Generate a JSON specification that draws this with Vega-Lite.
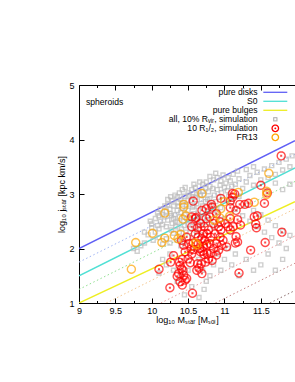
{
"$schema": "https://vega.github.io/schema/vega-lite/v6.json",
"width": 216, "height": 218,
"autosize": {"type": "none"},
"padding": {"left": 79, "top": 85, "right": 0, "bottom": 79},
"config": {
  "font": "Liberation Sans",
  "view": {"stroke": "#000000", "strokeWidth": 1},
  "axis": {"domain": false, "grid": false, "tickColor": "#000000", "tickWidth": 1, "labelFontSize": 9, "labelColor": "#000000", "titleFontSize": 9, "titleFontWeight": "normal", "titleColor": "#000000", "labelFont": "Liberation Sans", "titleFont": "Liberation Sans"}
},
"datasets": {
  "lines": [
    {"series": "pure disks", "M": 9, "j": 2.0}, {"series": "pure disks", "M": 11.97, "j": 3.98},
    {"series": "S0", "M": 9, "j": 1.5}, {"series": "S0", "M": 11.97, "j": 3.48},
    {"series": "pure bulges", "M": 9, "j": 1.0}, {"series": "pure bulges", "M": 11.97, "j": 2.86}
  ],
  "dotted": [
    {"line": "d1", "M": 9, "j": 1.75}, {"line": "d1", "M": 11.97, "j": 3.73},
    {"line": "d2", "M": 9, "j": 1.25}, {"line": "d2", "M": 11.97, "j": 3.23},
    {"line": "d3", "M": 9.375, "j": 1.0}, {"line": "d3", "M": 11.97, "j": 2.73},
    {"line": "d4", "M": 10.125, "j": 1.0}, {"line": "d4", "M": 11.97, "j": 2.23},
    {"line": "d5", "M": 10.875, "j": 1.0}, {"line": "d5", "M": 11.97, "j": 1.73},
    {"line": "d6", "M": 11.625, "j": 1.0}, {"line": "d6", "M": 11.97, "j": 1.23}
  ],
  "pts": [
    {"series":"all, 10% Rᵥᵢᵣ, simulation","M":10.30,"j":2.55},{"series":"all, 10% Rᵥᵢᵣ, simulation","M":10.32,"j":2.62},{"series":"all, 10% Rᵥᵢᵣ, simulation","M":10.35,"j":2.70},{"series":"all, 10% Rᵥᵢᵣ, simulation","M":10.38,"j":2.58},{"series":"all, 10% Rᵥᵢᵣ, simulation","M":10.40,"j":2.66},{"series":"all, 10% Rᵥᵢᵣ, simulation","M":10.42,"j":2.74},{"series":"all, 10% Rᵥᵢᵣ, simulation","M":10.44,"j":2.50},{"series":"all, 10% Rᵥᵢᵣ, simulation","M":10.46,"j":2.62},{"series":"all, 10% Rᵥᵢᵣ, simulation","M":10.48,"j":2.80},{"series":"all, 10% Rᵥᵢᵣ, simulation","M":10.50,"j":2.70},
    {"series":"all, 10% Rᵥᵢᵣ, simulation","M":10.52,"j":2.56},{"series":"all, 10% Rᵥᵢᵣ, simulation","M":10.54,"j":2.88},{"series":"all, 10% Rᵥᵢᵣ, simulation","M":10.56,"j":2.76},{"series":"all, 10% Rᵥᵢᵣ, simulation","M":10.58,"j":2.64},{"series":"all, 10% Rᵥᵢᵣ, simulation","M":10.60,"j":2.94},{"series":"all, 10% Rᵥᵢᵣ, simulation","M":10.62,"j":2.82},{"series":"all, 10% Rᵥᵢᵣ, simulation","M":10.64,"j":2.70},{"series":"all, 10% Rᵥᵢᵣ, simulation","M":10.66,"j":2.58},{"series":"all, 10% Rᵥᵢᵣ, simulation","M":10.68,"j":2.90},{"series":"all, 10% Rᵥᵢᵣ, simulation","M":10.70,"j":2.78},
    {"series":"all, 10% Rᵥᵢᵣ, simulation","M":10.72,"j":2.98},{"series":"all, 10% Rᵥᵢᵣ, simulation","M":10.74,"j":2.86},{"series":"all, 10% Rᵥᵢᵣ, simulation","M":10.76,"j":2.68},{"series":"all, 10% Rᵥᵢᵣ, simulation","M":10.78,"j":3.04},{"series":"all, 10% Rᵥᵢᵣ, simulation","M":10.80,"j":2.92},{"series":"all, 10% Rᵥᵢᵣ, simulation","M":10.82,"j":2.80},{"series":"all, 10% Rᵥᵢᵣ, simulation","M":10.84,"j":3.10},{"series":"all, 10% Rᵥᵢᵣ, simulation","M":10.86,"j":2.98},{"series":"all, 10% Rᵥᵢᵣ, simulation","M":10.88,"j":2.86},{"series":"all, 10% Rᵥᵢᵣ, simulation","M":10.90,"j":3.08},
    {"series":"all, 10% Rᵥᵢᵣ, simulation","M":10.92,"j":2.94},{"series":"all, 10% Rᵥᵢᵣ, simulation","M":10.94,"j":3.16},{"series":"all, 10% Rᵥᵢᵣ, simulation","M":10.96,"j":3.02},{"series":"all, 10% Rᵥᵢᵣ, simulation","M":10.98,"j":2.90},{"series":"all, 10% Rᵥᵢᵣ, simulation","M":11.00,"j":3.12},{"series":"all, 10% Rᵥᵢᵣ, simulation","M":11.02,"j":3.20},{"series":"all, 10% Rᵥᵢᵣ, simulation","M":11.04,"j":3.06},{"series":"all, 10% Rᵥᵢᵣ, simulation","M":11.06,"j":2.96},{"series":"all, 10% Rᵥᵢᵣ, simulation","M":11.08,"j":3.24},{"series":"all, 10% Rᵥᵢᵣ, simulation","M":11.10,"j":3.14},
    {"series":"all, 10% Rᵥᵢᵣ, simulation","M":10.05,"j":2.30},{"series":"all, 10% Rᵥᵢᵣ, simulation","M":10.08,"j":2.42},{"series":"all, 10% Rᵥᵢᵣ, simulation","M":10.10,"j":2.36},{"series":"all, 10% Rᵥᵢᵣ, simulation","M":10.12,"j":2.50},{"series":"all, 10% Rᵥᵢᵣ, simulation","M":10.15,"j":2.44},{"series":"all, 10% Rᵥᵢᵣ, simulation","M":10.18,"j":2.58},{"series":"all, 10% Rᵥᵢᵣ, simulation","M":10.20,"j":2.40},{"series":"all, 10% Rᵥᵢᵣ, simulation","M":10.22,"j":2.52},{"series":"all, 10% Rᵥᵢᵣ, simulation","M":10.25,"j":2.64},{"series":"all, 10% Rᵥᵢᵣ, simulation","M":10.27,"j":2.34},
    {"series":"all, 10% Rᵥᵢᵣ, simulation","M":10.28,"j":2.46},{"series":"all, 10% Rᵥᵢᵣ, simulation","M":10.30,"j":2.28},{"series":"all, 10% Rᵥᵢᵣ, simulation","M":10.33,"j":2.40},{"series":"all, 10% Rᵥᵢᵣ, simulation","M":10.36,"j":2.48},{"series":"all, 10% Rᵥᵢᵣ, simulation","M":10.38,"j":2.30},{"series":"all, 10% Rᵥᵢᵣ, simulation","M":10.41,"j":2.36},{"series":"all, 10% Rᵥᵢᵣ, simulation","M":10.45,"j":2.42},{"series":"all, 10% Rᵥᵢᵣ, simulation","M":10.47,"j":2.30},{"series":"all, 10% Rᵥᵢᵣ, simulation","M":10.50,"j":2.44},{"series":"all, 10% Rᵥᵢᵣ, simulation","M":10.53,"j":2.36},
    {"series":"all, 10% Rᵥᵢᵣ, simulation","M":10.57,"j":2.48},{"series":"all, 10% Rᵥᵢᵣ, simulation","M":10.60,"j":2.40},{"series":"all, 10% Rᵥᵢᵣ, simulation","M":10.63,"j":2.52},{"series":"all, 10% Rᵥᵢᵣ, simulation","M":10.66,"j":2.44},{"series":"all, 10% Rᵥᵢᵣ, simulation","M":10.70,"j":2.56},{"series":"all, 10% Rᵥᵢᵣ, simulation","M":10.73,"j":2.48},{"series":"all, 10% Rᵥᵢᵣ, simulation","M":10.77,"j":2.60},{"series":"all, 10% Rᵥᵢᵣ, simulation","M":10.80,"j":2.52},
    {"series":"all, 10% Rᵥᵢᵣ, simulation","M":10.40,"j":2.90},{"series":"all, 10% Rᵥᵢᵣ, simulation","M":10.45,"j":2.96},{"series":"all, 10% Rᵥᵢᵣ, simulation","M":10.50,"j":3.02},{"series":"all, 10% Rᵥᵢᵣ, simulation","M":10.55,"j":3.08},{"series":"all, 10% Rᵥᵢᵣ, simulation","M":10.60,"j":3.12},{"series":"all, 10% Rᵥᵢᵣ, simulation","M":10.65,"j":3.04},{"series":"all, 10% Rᵥᵢᵣ, simulation","M":10.70,"j":3.18},{"series":"all, 10% Rᵥᵢᵣ, simulation","M":10.75,"j":3.22},{"series":"all, 10% Rᵥᵢᵣ, simulation","M":10.80,"j":3.14},{"series":"all, 10% Rᵥᵢᵣ, simulation","M":10.85,"j":3.26},
    {"series":"all, 10% Rᵥᵢᵣ, simulation","M":10.90,"j":3.30},{"series":"all, 10% Rᵥᵢᵣ, simulation","M":10.95,"j":3.24},{"series":"all, 10% Rᵥᵢᵣ, simulation","M":10.36,"j":2.84},{"series":"all, 10% Rᵥᵢᵣ, simulation","M":10.30,"j":2.78},{"series":"all, 10% Rᵥᵢᵣ, simulation","M":10.25,"j":2.72},{"series":"all, 10% Rᵥᵢᵣ, simulation","M":10.20,"j":2.68},{"series":"all, 10% Rᵥᵢᵣ, simulation","M":10.15,"j":2.62},
    {"series":"all, 10% Rᵥᵢᵣ, simulation","M":9.90,"j":2.10},{"series":"all, 10% Rᵥᵢᵣ, simulation","M":9.95,"j":2.25},{"series":"all, 10% Rᵥᵢᵣ, simulation","M":10.00,"j":2.38},{"series":"all, 10% Rᵥᵢᵣ, simulation","M":9.85,"j":2.05},{"series":"all, 10% Rᵥᵢᵣ, simulation","M":10.02,"j":2.15},{"series":"all, 10% Rᵥᵢᵣ, simulation","M":10.10,"j":2.20},{"series":"all, 10% Rᵥᵢᵣ, simulation","M":10.15,"j":2.08},{"series":"all, 10% Rᵥᵢᵣ, simulation","M":10.20,"j":2.18},{"series":"all, 10% Rᵥᵢᵣ, simulation","M":10.25,"j":2.10},{"series":"all, 10% Rᵥᵢᵣ, simulation","M":10.35,"j":2.15},{"series":"all, 10% Rᵥᵢᵣ, simulation","M":10.40,"j":2.05},{"series":"all, 10% Rᵥᵢᵣ, simulation","M":10.45,"j":2.12},
    {"series":"all, 10% Rᵥᵢᵣ, simulation","M":11.15,"j":3.18},{"series":"all, 10% Rᵥᵢᵣ, simulation","M":11.20,"j":3.28},{"series":"all, 10% Rᵥᵢᵣ, simulation","M":11.25,"j":3.10},{"series":"all, 10% Rᵥᵢᵣ, simulation","M":11.30,"j":3.22},{"series":"all, 10% Rᵥᵢᵣ, simulation","M":11.35,"j":3.34},{"series":"all, 10% Rᵥᵢᵣ, simulation","M":11.40,"j":3.16},{"series":"all, 10% Rᵥᵢᵣ, simulation","M":11.45,"j":3.40},{"series":"all, 10% Rᵥᵢᵣ, simulation","M":11.50,"j":3.26},{"series":"all, 10% Rᵥᵢᵣ, simulation","M":11.55,"j":3.46},{"series":"all, 10% Rᵥᵢᵣ, simulation","M":11.60,"j":3.30},
    {"series":"all, 10% Rᵥᵢᵣ, simulation","M":11.65,"j":3.52},{"series":"all, 10% Rᵥᵢᵣ, simulation","M":11.70,"j":3.36},{"series":"all, 10% Rᵥᵢᵣ, simulation","M":11.75,"j":3.58},{"series":"all, 10% Rᵥᵢᵣ, simulation","M":11.80,"j":3.44},{"series":"all, 10% Rᵥᵢᵣ, simulation","M":11.85,"j":3.64},{"series":"all, 10% Rᵥᵢᵣ, simulation","M":11.90,"j":3.50},{"series":"all, 10% Rᵥᵢᵣ, simulation","M":11.93,"j":3.70},{"series":"all, 10% Rᵥᵢᵣ, simulation","M":11.70,"j":3.20},{"series":"all, 10% Rᵥᵢᵣ, simulation","M":11.80,"j":3.08},{"series":"all, 10% Rᵥᵢᵣ, simulation","M":11.90,"j":3.18},{"series":"all, 10% Rᵥᵢᵣ, simulation","M":11.60,"j":3.05},
    {"series":"all, 10% Rᵥᵢᵣ, simulation","M":11.10,"j":2.86},{"series":"all, 10% Rᵥᵢᵣ, simulation","M":11.15,"j":2.72},{"series":"all, 10% Rᵥᵢᵣ, simulation","M":11.20,"j":2.96},{"series":"all, 10% Rᵥᵢᵣ, simulation","M":11.25,"j":2.60},{"series":"all, 10% Rᵥᵢᵣ, simulation","M":11.30,"j":2.80},{"series":"all, 10% Rᵥᵢᵣ, simulation","M":11.35,"j":2.50},{"series":"all, 10% Rᵥᵢᵣ, simulation","M":11.40,"j":2.70},{"series":"all, 10% Rᵥᵢᵣ, simulation","M":11.45,"j":2.40},{"series":"all, 10% Rᵥᵢᵣ, simulation","M":11.50,"j":2.62},{"series":"all, 10% Rᵥᵢᵣ, simulation","M":11.55,"j":2.30},
    {"series":"all, 10% Rᵥᵢᵣ, simulation","M":11.60,"j":2.52},{"series":"all, 10% Rᵥᵢᵣ, simulation","M":11.65,"j":2.20},{"series":"all, 10% Rᵥᵢᵣ, simulation","M":11.70,"j":2.42},{"series":"all, 10% Rᵥᵢᵣ, simulation","M":11.75,"j":2.10},{"series":"all, 10% Rᵥᵢᵣ, simulation","M":11.80,"j":2.32},{"series":"all, 10% Rᵥᵢᵣ, simulation","M":11.85,"j":2.00},{"series":"all, 10% Rᵥᵢᵣ, simulation","M":11.90,"j":2.24},
    {"series":"all, 10% Rᵥᵢᵣ, simulation","M":10.60,"j":2.00},{"series":"all, 10% Rᵥᵢᵣ, simulation","M":10.65,"j":1.80},{"series":"all, 10% Rᵥᵢᵣ, simulation","M":10.70,"j":1.60},{"series":"all, 10% Rᵥᵢᵣ, simulation","M":10.75,"j":1.40},{"series":"all, 10% Rᵥᵢᵣ, simulation","M":10.80,"j":1.50},{"series":"all, 10% Rᵥᵢᵣ, simulation","M":10.85,"j":1.70},{"series":"all, 10% Rᵥᵢᵣ, simulation","M":10.90,"j":1.90},{"series":"all, 10% Rᵥᵢᵣ, simulation","M":10.95,"j":1.60},{"series":"all, 10% Rᵥᵢᵣ, simulation","M":11.00,"j":1.80},{"series":"all, 10% Rᵥᵢᵣ, simulation","M":11.05,"j":2.00},
    {"series":"all, 10% Rᵥᵢᵣ, simulation","M":11.10,"j":1.70},{"series":"all, 10% Rᵥᵢᵣ, simulation","M":11.15,"j":1.90},{"series":"all, 10% Rᵥᵢᵣ, simulation","M":11.20,"j":1.50},{"series":"all, 10% Rᵥᵢᵣ, simulation","M":11.30,"j":1.80},{"series":"all, 10% Rᵥᵢᵣ, simulation","M":11.40,"j":1.60},{"series":"all, 10% Rᵥᵢᵣ, simulation","M":11.50,"j":1.70},{"series":"all, 10% Rᵥᵢᵣ, simulation","M":11.60,"j":1.90},{"series":"all, 10% Rᵥᵢᵣ, simulation","M":11.70,"j":1.60},{"series":"all, 10% Rᵥᵢᵣ, simulation","M":11.80,"j":1.80},{"series":"all, 10% Rᵥᵢᵣ, simulation","M":10.50,"j":1.60},
    {"series":"all, 10% Rᵥᵢᵣ, simulation","M":10.40,"j":1.50},{"series":"all, 10% Rᵥᵢᵣ, simulation","M":10.55,"j":1.30},{"series":"all, 10% Rᵥᵢᵣ, simulation","M":10.45,"j":1.15},{"series":"all, 10% Rᵥᵢᵣ, simulation","M":10.35,"j":1.40},{"series":"all, 10% Rᵥᵢᵣ, simulation","M":10.30,"j":1.60},{"series":"all, 10% Rᵥᵢᵣ, simulation","M":10.65,"j":1.10},{"series":"all, 10% Rᵥᵢᵣ, simulation","M":10.72,"j":1.25},{"series":"all, 10% Rᵥᵢᵣ, simulation","M":10.20,"j":1.70},{"series":"all, 10% Rᵥᵢᵣ, simulation","M":10.25,"j":1.90},{"series":"all, 10% Rᵥᵢᵣ, simulation","M":10.15,"j":1.80},{"series":"all, 10% Rᵥᵢᵣ, simulation","M":10.10,"j":1.55},
    {"series":"all, 10% Rᵥᵢᵣ, simulation","M":10.42,"j":2.20},{"series":"all, 10% Rᵥᵢᵣ, simulation","M":10.55,"j":2.20},{"series":"all, 10% Rᵥᵢᵣ, simulation","M":10.68,"j":2.25},{"series":"all, 10% Rᵥᵢᵣ, simulation","M":10.85,"j":2.40},{"series":"all, 10% Rᵥᵢᵣ, simulation","M":10.90,"j":2.65},{"series":"all, 10% Rᵥᵢᵣ, simulation","M":10.95,"j":2.75},{"series":"all, 10% Rᵥᵢᵣ, simulation","M":11.00,"j":2.55},{"series":"all, 10% Rᵥᵢᵣ, simulation","M":10.92,"j":2.45},{"series":"all, 10% Rᵥᵢᵣ, simulation","M":10.62,"j":2.30},{"series":"all, 10% Rᵥᵢᵣ, simulation","M":10.48,"j":2.55},
    {"series":"all, 10% Rᵥᵢᵣ, simulation","M":10.58,"j":2.78},{"series":"all, 10% Rᵥᵢᵣ, simulation","M":10.52,"j":2.98},{"series":"all, 10% Rᵥᵢᵣ, simulation","M":10.67,"j":2.98},{"series":"all, 10% Rᵥᵢᵣ, simulation","M":10.77,"j":2.90},{"series":"all, 10% Rᵥᵢᵣ, simulation","M":10.83,"j":2.70},{"series":"all, 10% Rᵥᵢᵣ, simulation","M":10.35,"j":2.95},{"series":"all, 10% Rᵥᵢᵣ, simulation","M":10.28,"j":2.88},{"series":"all, 10% Rᵥᵢᵣ, simulation","M":10.22,"j":2.80},
    {"series":"all, 10% Rᵥᵢᵣ, simulation","M":10.05,"j":2.55},{"series":"all, 10% Rᵥᵢᵣ, simulation","M":10.08,"j":2.65},{"series":"all, 10% Rᵥᵢᵣ, simulation","M":10.12,"j":2.72},{"series":"all, 10% Rᵥᵢᵣ, simulation","M":10.18,"j":2.78},{"series":"all, 10% Rᵥᵢᵣ, simulation","M":10.22,"j":2.90},{"series":"all, 10% Rᵥᵢᵣ, simulation","M":10.26,"j":2.95},{"series":"all, 10% Rᵥᵢᵣ, simulation","M":10.32,"j":2.98},{"series":"all, 10% Rᵥᵢᵣ, simulation","M":10.38,"j":3.02},{"series":"all, 10% Rᵥᵢᵣ, simulation","M":10.42,"j":3.08},{"series":"all, 10% Rᵥᵢᵣ, simulation","M":10.46,"j":3.12},
    {"series":"all, 10% Rᵥᵢᵣ, simulation","M":10.00,"j":2.45},{"series":"all, 10% Rᵥᵢᵣ, simulation","M":9.98,"j":2.50},{"series":"all, 10% Rᵥᵢᵣ, simulation","M":10.10,"j":2.60},{"series":"all, 10% Rᵥᵢᵣ, simulation","M":10.27,"j":2.60},{"series":"all, 10% Rᵥᵢᵣ, simulation","M":10.33,"j":2.50},{"series":"all, 10% Rᵥᵢᵣ, simulation","M":10.37,"j":2.78},{"series":"all, 10% Rᵥᵢᵣ, simulation","M":10.43,"j":2.85},{"series":"all, 10% Rᵥᵢᵣ, simulation","M":10.50,"j":2.88},{"series":"all, 10% Rᵥᵢᵣ, simulation","M":10.56,"j":2.95},{"series":"all, 10% Rᵥᵢᵣ, simulation","M":10.62,"j":3.00},
    {"series":"all, 10% Rᵥᵢᵣ, simulation","M":10.70,"j":3.05},{"series":"all, 10% Rᵥᵢᵣ, simulation","M":10.74,"j":3.10},{"series":"all, 10% Rᵥᵢᵣ, simulation","M":10.58,"j":3.18},{"series":"all, 10% Rᵥᵢᵣ, simulation","M":10.66,"j":3.22},{"series":"all, 10% Rᵥᵢᵣ, simulation","M":10.80,"j":3.32},{"series":"all, 10% Rᵥᵢᵣ, simulation","M":10.88,"j":3.38},{"series":"all, 10% Rᵥᵢᵣ, simulation","M":10.98,"j":3.35},{"series":"all, 10% Rᵥᵢᵣ, simulation","M":11.05,"j":3.30},{"series":"all, 10% Rᵥᵢᵣ, simulation","M":11.12,"j":3.36},{"series":"all, 10% Rᵥᵢᵣ, simulation","M":11.18,"j":3.42},
    {"series":"all, 10% Rᵥᵢᵣ, simulation","M":11.30,"j":3.45},{"series":"all, 10% Rᵥᵢᵣ, simulation","M":11.40,"j":3.50},{"series":"all, 10% Rᵥᵢᵣ, simulation","M":9.80,"j":1.95},{"series":"all, 10% Rᵥᵢᵣ, simulation","M":9.75,"j":2.00},{"series":"all, 10% Rᵥᵢᵣ, simulation","M":9.90,"j":2.30},

    {"series":"10 R₁/₂, simulation","M":11.78,"j":3.70},{"series":"10 R₁/₂, simulation","M":11.50,"j":3.16},{"series":"10 R₁/₂, simulation","M":11.59,"j":3.02},{"series":"10 R₁/₂, simulation","M":11.55,"j":2.83},{"series":"10 R₁/₂, simulation","M":11.33,"j":2.83},{"series":"10 R₁/₂, simulation","M":11.41,"j":2.58},{"series":"10 R₁/₂, simulation","M":11.45,"j":2.60},{"series":"10 R₁/₂, simulation","M":11.43,"j":2.45},{"series":"10 R₁/₂, simulation","M":11.44,"j":2.38},{"series":"10 R₁/₂, simulation","M":11.79,"j":2.30},
    {"series":"10 R₁/₂, simulation","M":11.56,"j":2.11},{"series":"10 R₁/₂, simulation","M":11.36,"j":1.97},{"series":"10 R₁/₂, simulation","M":11.20,"j":1.55},{"series":"10 R₁/₂, simulation","M":11.21,"j":2.81},{"series":"10 R₁/₂, simulation","M":11.11,"j":3.01},{"series":"10 R₁/₂, simulation","M":11.14,"j":3.00},{"series":"10 R₁/₂, simulation","M":11.11,"j":2.94},{"series":"10 R₁/₂, simulation","M":11.08,"j":2.75},{"series":"10 R₁/₂, simulation","M":11.16,"j":2.70},{"series":"10 R₁/₂, simulation","M":11.18,"j":2.53},
    {"series":"10 R₁/₂, simulation","M":11.22,"j":2.43},{"series":"10 R₁/₂, simulation","M":11.16,"j":2.22},{"series":"10 R₁/₂, simulation","M":11.15,"j":2.10},{"series":"10 R₁/₂, simulation","M":11.18,"j":2.12},{"series":"10 R₁/₂, simulation","M":10.10,"j":1.62},{"series":"10 R₁/₂, simulation","M":10.30,"j":1.87},{"series":"10 R₁/₂, simulation","M":10.26,"j":1.75},{"series":"10 R₁/₂, simulation","M":10.25,"j":1.28},{"series":"10 R₁/₂, simulation","M":10.38,"j":1.75},{"series":"10 R₁/₂, simulation","M":10.39,"j":1.69},
    {"series":"10 R₁/₂, simulation","M":10.41,"j":1.63},{"series":"10 R₁/₂, simulation","M":10.43,"j":1.60},{"series":"10 R₁/₂, simulation","M":10.37,"j":1.54},{"series":"10 R₁/₂, simulation","M":10.35,"j":1.49},{"series":"10 R₁/₂, simulation","M":10.44,"j":1.51},{"series":"10 R₁/₂, simulation","M":10.46,"j":1.42},{"series":"10 R₁/₂, simulation","M":10.42,"j":1.33},{"series":"10 R₁/₂, simulation","M":10.39,"j":1.39},{"series":"10 R₁/₂, simulation","M":10.48,"j":1.45},{"series":"10 R₁/₂, simulation","M":10.56,"j":1.18},
    {"series":"10 R₁/₂, simulation","M":10.46,"j":1.94},{"series":"10 R₁/₂, simulation","M":10.42,"j":1.80},{"series":"10 R₁/₂, simulation","M":10.50,"j":1.81},{"series":"10 R₁/₂, simulation","M":10.53,"j":1.74},{"series":"10 R₁/₂, simulation","M":10.55,"j":1.90},{"series":"10 R₁/₂, simulation","M":10.54,"j":1.99},{"series":"10 R₁/₂, simulation","M":10.57,"j":2.10},{"series":"10 R₁/₂, simulation","M":10.62,"j":1.60},{"series":"10 R₁/₂, simulation","M":10.65,"j":1.64},{"series":"10 R₁/₂, simulation","M":10.69,"j":1.54},
    {"series":"10 R₁/₂, simulation","M":10.63,"j":1.72},{"series":"10 R₁/₂, simulation","M":10.68,"j":1.72},{"series":"10 R₁/₂, simulation","M":10.74,"j":1.75},{"series":"10 R₁/₂, simulation","M":10.78,"j":1.81},{"series":"10 R₁/₂, simulation","M":10.76,"j":1.91},{"series":"10 R₁/₂, simulation","M":10.81,"j":1.91},{"series":"10 R₁/₂, simulation","M":10.72,"j":1.89},{"series":"10 R₁/₂, simulation","M":10.67,"j":1.94},{"series":"10 R₁/₂, simulation","M":10.66,"j":2.00},{"series":"10 R₁/₂, simulation","M":10.71,"j":2.04},
    {"series":"10 R₁/₂, simulation","M":10.76,"j":2.07},{"series":"10 R₁/₂, simulation","M":10.80,"j":2.09},{"series":"10 R₁/₂, simulation","M":10.73,"j":2.15},{"series":"10 R₁/₂, simulation","M":10.69,"j":2.18},{"series":"10 R₁/₂, simulation","M":10.64,"j":2.21},{"series":"10 R₁/₂, simulation","M":10.60,"j":2.27},{"series":"10 R₁/₂, simulation","M":10.55,"j":2.40},{"series":"10 R₁/₂, simulation","M":10.55,"j":2.58},{"series":"10 R₁/₂, simulation","M":10.61,"j":2.57},{"series":"10 R₁/₂, simulation","M":10.57,"j":2.87},
    {"series":"10 R₁/₂, simulation","M":10.69,"j":2.70},{"series":"10 R₁/₂, simulation","M":10.75,"j":2.73},{"series":"10 R₁/₂, simulation","M":10.82,"j":2.81},{"series":"10 R₁/₂, simulation","M":10.83,"j":2.76},{"series":"10 R₁/₂, simulation","M":10.89,"j":2.64},{"series":"10 R₁/₂, simulation","M":10.94,"j":2.49},{"series":"10 R₁/₂, simulation","M":10.92,"j":2.40},{"series":"10 R₁/₂, simulation","M":10.95,"j":2.34},{"series":"10 R₁/₂, simulation","M":10.87,"j":2.27},{"series":"10 R₁/₂, simulation","M":10.94,"j":2.21},
    {"series":"10 R₁/₂, simulation","M":10.98,"j":2.15},{"series":"10 R₁/₂, simulation","M":10.89,"j":2.09},{"series":"10 R₁/₂, simulation","M":10.85,"j":2.00},{"series":"10 R₁/₂, simulation","M":10.92,"j":1.97},{"series":"10 R₁/₂, simulation","M":10.89,"j":1.88},{"series":"10 R₁/₂, simulation","M":10.83,"j":1.78},{"series":"10 R₁/₂, simulation","M":10.67,"j":2.46},{"series":"10 R₁/₂, simulation","M":10.72,"j":2.40},{"series":"10 R₁/₂, simulation","M":10.78,"j":2.34},{"series":"10 R₁/₂, simulation","M":10.76,"j":2.27},
    {"series":"10 R₁/₂, simulation","M":10.81,"j":2.21},{"series":"10 R₁/₂, simulation","M":10.63,"j":2.38},{"series":"10 R₁/₂, simulation","M":10.48,"j":2.21},{"series":"10 R₁/₂, simulation","M":10.51,"j":2.09},{"series":"10 R₁/₂, simulation","M":10.41,"j":2.15},{"series":"10 R₁/₂, simulation","M":10.44,"j":2.06},{"series":"10 R₁/₂, simulation","M":11.08,"j":2.34},{"series":"10 R₁/₂, simulation","M":11.05,"j":2.40},{"series":"10 R₁/₂, simulation","M":11.01,"j":2.46},{"series":"10 R₁/₂, simulation","M":11.08,"j":2.55},
    {"series":"10 R₁/₂, simulation","M":11.12,"j":2.40},{"series":"10 R₁/₂, simulation","M":11.03,"j":2.03},{"series":"10 R₁/₂, simulation","M":10.96,"j":2.06},{"series":"10 R₁/₂, simulation","M":10.80,"j":2.58},{"series":"10 R₁/₂, simulation","M":10.85,"j":2.46},{"series":"10 R₁/₂, simulation","M":10.95,"j":2.92},{"series":"10 R₁/₂, simulation","M":11.08,"j":2.87},{"series":"10 R₁/₂, simulation","M":10.75,"j":2.55},{"series":"10 R₁/₂, simulation","M":10.64,"j":2.09},{"series":"10 R₁/₂, simulation","M":10.71,"j":2.27},
    {"series":"10 R₁/₂, simulation","M":11.28,"j":2.81},{"series":"10 R₁/₂, simulation","M":10.60,"j":2.55},{"series":"10 R₁/₂, simulation","M":10.70,"j":1.95},{"series":"10 R₁/₂, simulation","M":10.58,"j":1.98},

    {"series":"FR13","M":9.72,"j":1.62},{"series":"FR13","M":9.78,"j":2.11},{"series":"FR13","M":10.01,"j":2.28},{"series":"FR13","M":10.14,"j":2.11},{"series":"FR13","M":10.18,"j":2.19},{"series":"FR13","M":10.18,"j":2.65},{"series":"FR13","M":10.31,"j":2.24},{"series":"FR13","M":10.40,"j":2.26},{"series":"FR13","M":10.43,"j":2.54},{"series":"FR13","M":10.44,"j":2.81},
    {"series":"FR13","M":10.44,"j":2.76},{"series":"FR13","M":10.47,"j":2.60},{"series":"FR13","M":10.60,"j":2.10},{"series":"FR13","M":10.69,"j":3.01},{"series":"FR13","M":10.86,"j":2.52},{"series":"FR13","M":10.95,"j":2.73},{"series":"FR13","M":10.94,"j":2.56},{"series":"FR13","M":11.00,"j":2.86},{"series":"FR13","M":11.07,"j":2.59},{"series":"FR13","M":11.19,"j":3.03},
    {"series":"FR13","M":11.41,"j":2.85},{"series":"FR13","M":11.58,"j":2.99},{"series":"FR13","M":11.61,"j":3.38},{"series":"FR13","M":11.58,"j":3.05},{"series":"FR13","M":10.62,"j":2.07},{"series":"FR13","M":10.36,"j":2.18}
  ]
},
"layer": [
  {
    "data": {"name": "lines"},
    "mark": {"type": "line", "strokeWidth": 1.5, "clip": true},
    "encoding": {
      "x": {"field": "M", "type": "quantitative", "scale": {"domain": [9, 11.97], "nice": false, "zero": false},
        "axis": {"orient": "bottom", "values": [9,9.25,9.5,9.75,10,10.25,10.5,10.75,11,11.25,11.5,11.75],
          "labelExpr": "abs(datum.value*2-round(datum.value*2))<0.01 ? format(datum.value,'~g') : ''",
          "tickSize": {"condition": {"test": "abs(datum.value*2-round(datum.value*2))<0.01", "value": -5}, "value": -2.5},
          "labelPadding": 8, "labelFlush": false, "title": "log₁₀ Mₛₜₐᵣ [Mₛₒₗ]", "titlePadding": 0}},
      "y": {"field": "j", "type": "quantitative", "scale": {"domain": [1, 5], "nice": false, "zero": false},
        "axis": {"orient": "left", "values": [1,1.5,2,2.5,3,3.5,4,4.5,5],
          "labelExpr": "abs(datum.value-round(datum.value))<0.01 ? format(datum.value,'~g') : ''",
          "tickSize": {"condition": {"test": "abs(datum.value-round(datum.value))<0.01", "value": -5}, "value": -2.5},
          "labelPadding": 10, "labelFlush": false, "title": "log₁₀ jₛₜₐᵣ [kpc km/s]", "titlePadding": 2}},
      "color": {"field": "series", "type": "nominal",
        "scale": {"domain": ["pure disks", "S0", "pure bulges", "all, 10% Rᵥᵢᵣ, simulation", "10 R₁/₂, simulation", "FR13"],
                  "range": ["#5f5ff5", "#4fe0d4", "#eeee22", "#bbbbbb", "#ff0000", "#ffa500"]},
        "legend": {"orient": "none", "legendX": 192, "legendY": 3, "title": null, "padding": 0, "rowPadding": 0,
          "symbolSize": 42, "symbolStrokeWidth": 1.3, "symbolFillColor": "transparent", "symbolOffset": 0,
          "labelAlign": "right", "labelOffset": -22, "labelFontSize": 8.6, "labelFont": "Liberation Sans", "labelColor": "#000000", "labelLimit": 300,
          "encode": {"symbols": {"update": {"strokeJoin": {"value": "round"}}}}}}
    }
  },
  {
    "data": {"name": "dotted"},
    "mark": {"type": "line", "strokeWidth": 1, "strokeDash": [1.5, 2.5], "clip": true},
    "encoding": {
      "x": {"field": "M", "type": "quantitative",
        "axis": {"orient": "top", "values": [9,9.25,9.5,9.75,10,10.25,10.5,10.75,11,11.25,11.5,11.75], "labels": false, "title": null,
          "tickSize": {"condition": {"test": "abs(datum.value*2-round(datum.value*2))<0.01", "value": -5}, "value": -2.5}}},
      "y": {"field": "j", "type": "quantitative"},
      "detail": {"field": "line", "type": "nominal"},
      "color": {"condition": [
        {"test": "datum.line === 'd1'", "value": "#9fb4f5"},
        {"test": "datum.line === 'd2'", "value": "#8fe08f"},
        {"test": "datum.line === 'd3'", "value": "#f5c890"},
        {"test": "datum.line === 'd4'", "value": "#e89a9a"},
        {"test": "datum.line === 'd5'", "value": "#c88080"}
      ], "value": "#8a6a6a"}
    }
  },
  {
    "data": {"name": "pts"},
    "mark": {"type": "point", "filled": false, "size": 64, "strokeWidth": 1.4, "clip": true},
    "encoding": {
      "x": {"field": "M", "type": "quantitative", "axis": null},
      "y": {"field": "j", "type": "quantitative"},
      "color": {"field": "series", "type": "nominal"},
      "shape": {"field": "series", "type": "nominal",
        "scale": {"domain": ["pure disks", "S0", "pure bulges", "all, 10% Rᵥᵢᵣ, simulation", "10 R₁/₂, simulation", "FR13"],
                  "range": ["M-3.7,0H3.7", "M-3.7,0H3.7", "M-3.7,0H3.7", "M-0.5,-0.5H0.5V0.5H-0.5Z",
                            "M1,0L0.951,0.309L0.809,0.588L0.588,0.809L0.309,0.951L0,1L-0.309,0.951L-0.588,0.809L-0.809,0.588L-0.951,0.309L-1,0L-0.951,-0.309L-0.809,-0.588L-0.588,-0.809L-0.309,-0.951L0,-1L0.309,-0.951L0.588,-0.809L0.809,-0.588L0.951,-0.309ZM-0.08,-0.08H0.08V0.08H-0.08Z",
                            "M1,0L0.951,0.309L0.809,0.588L0.588,0.809L0.309,0.951L0,1L-0.309,0.951L-0.588,0.809L-0.809,0.588L-0.951,0.309L-1,0L-0.951,-0.309L-0.809,-0.588L-0.588,-0.809L-0.309,-0.951L0,-1L0.309,-0.951L0.588,-0.809L0.809,-0.588L0.951,-0.309Z"]},
        "legend": {"orient": "none", "legendX": 192, "legendY": 3, "title": null, "padding": 0, "rowPadding": 0,
          "symbolSize": 42, "symbolStrokeWidth": 1.3, "symbolFillColor": "transparent", "symbolOffset": 0,
          "labelAlign": "right", "labelOffset": -22, "labelFontSize": 8.6, "labelFont": "Liberation Sans", "labelColor": "#000000", "labelLimit": 300,
          "encode": {"symbols": {"update": {"strokeJoin": {"value": "round"}}}}}}
    }
  },
  {
    "data": {"values": [{"label": "spheroids"}]},
    "mark": {"type": "text", "align": "left", "baseline": "middle", "fontSize": 8.6, "font": "Liberation Sans", "color": "#000000"},
    "encoding": {
      "x": {"datum": 9.096, "type": "quantitative", "axis": null},
      "y": {"datum": 4.68, "type": "quantitative"},
      "text": {"field": "label"}
    }
  }
],
"resolve": {"axis": {"x": "independent"}}
}
